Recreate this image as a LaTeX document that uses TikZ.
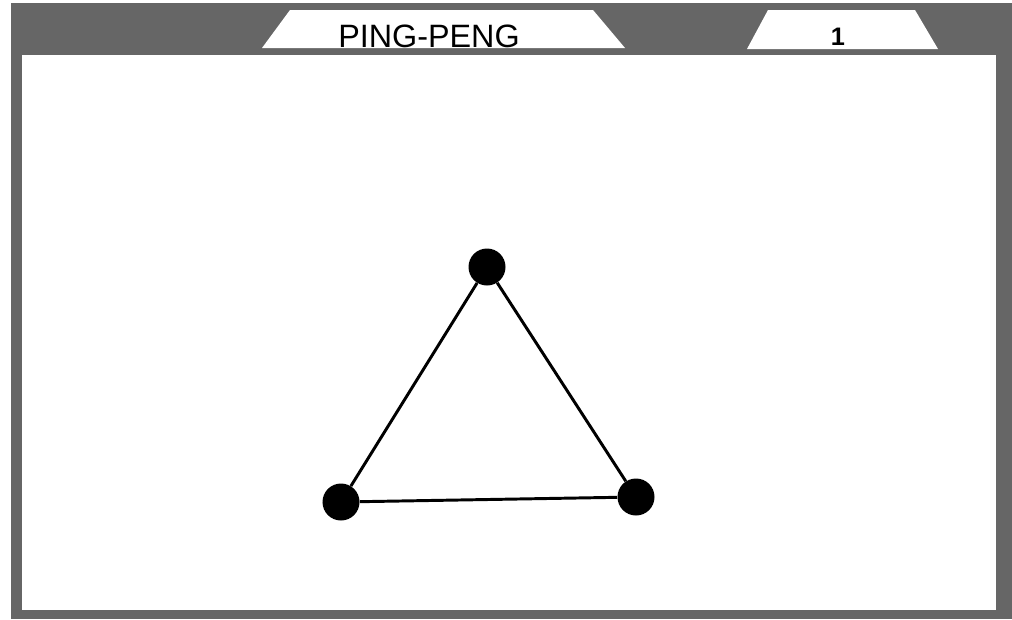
\documentclass[tikz,border=0pt]{standalone}
\usepackage{fontspec}
\setmainfont{Liberation Sans}
\usetikzlibrary{positioning}
\definecolor{fGray}{HTML}{666666}
\tikzset{
  vtx/.style={circle, fill=black, inner sep=0pt, minimum size=0.925cm},
  edge/.style={line width=2.1pt, black},
  tab/.style={fill=white},
}

\begin{document}
\begin{tikzpicture}[x=0.025cm, y=-0.025cm]
    \useasboundingbox (0,0) rectangle (1012,619);
    \fill[fGray] (11,3) rectangle (1012,619);
    \fill[white] (22,55) rectangle (996,610);
    % tabs
    \fill[tab] (262,48) -- (290,10) -- (593,10) -- (625,48) -- cycle;
    \fill[tab] (747,49) -- (768,10) -- (915,10) -- (938,49) -- cycle;
    \node (title) at (429,36) {\fontsize{23}{23}\selectfont PING-PENG};
    \node (num) at (838,37) {\fontsize{18}{18}\selectfont\bfseries 1};
    % triangle
    \node[vtx] (top) at (487,267) {};
    \node[vtx] (left) at (341,502) {};
    \node[vtx] (right) at (636,497) {};
    \draw[edge] (top) -- (left);
    \draw[edge] (left) -- (right);
    \draw[edge] (right) -- (top);
  \end{tikzpicture}
\end{document}
